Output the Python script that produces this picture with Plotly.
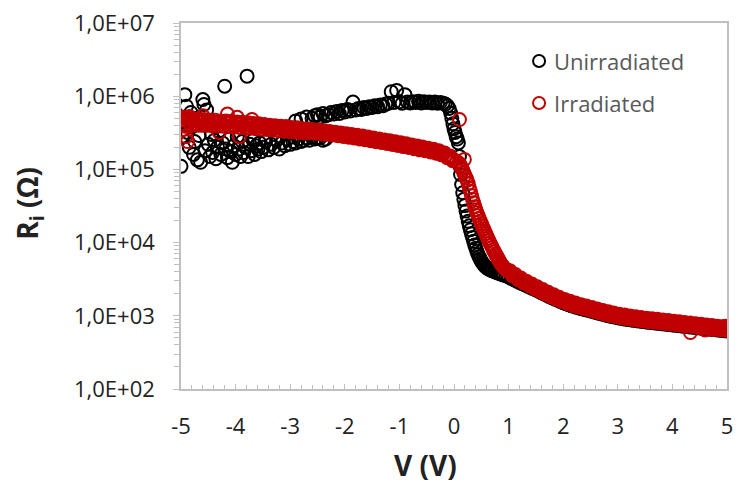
import plotly.graph_objects as go

# ---------------- data (V in volts, R in ohms) ----------------
# Unirradiated: noisy low-voltage region
unirr_noisy = [
    (-5.00, 1.1e5), (-4.98, 2.8e5), (-4.95, 4.5e5), (-4.93, 1.05e6), (-4.90, 7.3e5),
    (-4.88, 3.2e5), (-4.85, 2.0e5), (-4.82, 6.0e5), (-4.80, 3.8e5), (-4.77, 1.6e5),
    (-4.75, 2.4e5), (-4.72, 5.0e5), (-4.70, 1.35e5), (-4.67, 2.9e5), (-4.64, 1.25e5),
    (-4.60, 9.0e5), (-4.58, 7.7e5), (-4.56, 1.8e5), (-4.53, 6.5e5), (-4.50, 2.2e5),
    (-4.47, 1.5e5), (-4.44, 3.0e5), (-4.42, 1.7e5), (-4.39, 2.5e5), (-4.36, 1.4e5),
    (-4.33, 2.0e5), (-4.30, 3.3e5), (-4.27, 1.6e5), (-4.24, 2.3e5), (-4.20, 1.37e6),
    (-4.18, 1.9e5), (-4.15, 1.45e5), (-4.12, 2.6e5), (-4.09, 1.75e5), (-4.06, 1.25e5),
    (-4.03, 2.1e5), (-4.00, 1.6e5), (-3.97, 2.8e5), (-3.94, 1.9e5), (-3.91, 1.5e5),
    (-3.88, 2.4e5), (-3.85, 1.7e5), (-3.82, 2.0e5), (-3.79, 1.88e6), (-3.77, 1.5e5),
    (-3.74, 2.2e5), (-3.71, 1.8e5), (-3.68, 2.5e5), (-3.65, 1.6e5), (-3.62, 2.1e5),
    (-3.59, 1.9e5), (-3.56, 2.3e5), (-3.53, 1.75e5), (-3.50, 2.0e5), (-3.45, 2.4e5),
    (-3.40, 1.85e5), (-3.35, 2.2e5), (-3.30, 2.0e5), (-3.25, 2.5e5), (-3.20, 1.9e5),
    (-3.15, 2.3e5), (-3.10, 2.1e5), (-3.05, 2.6e5), (-3.00, 2.2e5), (-2.95, 2.4e5),
    (-2.90, 2.3e5), (-2.85, 2.6e5), (-2.80, 2.4e5), (-2.75, 2.5e5), (-2.70, 2.7e5),
    (-2.65, 2.5e5), (-2.60, 2.8e5), (-2.55, 2.6e5), (-2.50, 2.7e5), (-2.45, 2.7e5),
    (-2.40, 2.5e5), (-2.35, 2.6e5),
]
# Unirradiated: upper plateau up to 0 V
unirr_plateau = [
    (-2.90, 4.6e5), (-2.80, 4.9e5), (-2.70, 5.2e5), (-2.60, 5.0e5), (-2.55, 5.4e5),
    (-2.50, 5.6e5), (-2.45, 5.2e5), (-2.40, 5.8e5), (-2.35, 5.4e5), (-2.30, 5.6e5),
    (-2.25, 6.0e5), (-2.20, 5.7e5), (-2.15, 6.2e5), (-2.10, 5.8e5), (-2.05, 6.4e5),
    (-2.00, 6.1e5), (-1.95, 6.6e5), (-1.90, 6.3e5), (-1.85, 8.3e5), (-1.80, 6.5e5),
    (-1.75, 6.8e5), (-1.70, 6.6e5), (-1.65, 7.0e5), (-1.60, 6.8e5), (-1.55, 7.2e5),
    (-1.50, 7.0e5), (-1.45, 7.4e5), (-1.40, 7.2e5), (-1.35, 7.6e5), (-1.30, 7.4e5),
    (-1.25, 7.8e5), (-1.20, 8.0e5), (-1.15, 1.15e6), (-1.10, 8.2e5), (-1.05, 1.2e6),
    (-1.00, 8.4e5), (-0.95, 8.0e5), (-0.90, 1.05e6), (-0.85, 8.3e5), (-0.80, 8.1e5),
    (-0.75, 8.4e5), (-0.70, 8.2e5), (-0.65, 8.5e5), (-0.60, 8.1e5), (-0.55, 8.4e5),
    (-0.50, 8.2e5), (-0.45, 8.3e5), (-0.40, 8.1e5), (-0.35, 8.3e5), (-0.30, 8.0e5),
    (-0.25, 8.2e5), (-0.20, 8.0e5), (-0.16, 7.8e5), (-0.12, 7.4e5), (-0.09, 6.8e5),
    (-0.06, 5.9e5), (-0.04, 5.0e5), (-0.02, 4.2e5), (0.00, 3.6e5), (0.02, 3.2e5),
    (0.04, 2.8e5), (0.06, 2.6e5), (0.08, 2.3e5),
]
# Unirradiated: steep drop and high-voltage tail
unirr_drop = [
    (0.10, 1.5e5), (0.11, 1.1e5), (0.12, 8.5e4), (0.14, 6.2e4), (0.16, 4.8e4),
    (0.18, 3.9e4), (0.20, 3.2e4), (0.22, 2.7e4), (0.24, 2.3e4), (0.26, 1.95e4),
    (0.28, 1.7e4), (0.30, 1.5e4), (0.32, 1.32e4), (0.34, 1.17e4), (0.36, 1.04e4),
    (0.38, 9.3e3), (0.40, 8.4e3), (0.42, 7.6e3), (0.44, 6.9e3), (0.46, 6.4e3),
    (0.48, 6.0e3), (0.50, 5.6e3), (0.52, 5.3e3), (0.54, 5.05e3), (0.56, 4.85e3),
    (0.58, 4.68e3), (0.60, 4.55e3), (0.62, 4.45e3), (0.64, 4.36e3), (0.66, 4.28e3),
    (0.68, 4.2e3), (0.70, 4.13e3), (0.75, 3.98e3), (0.80, 3.85e3), (0.85, 3.73e3),
    (0.90, 3.62e3), (0.95, 3.52e3),
]
unirr_tail = [
    (1.00, 3400), (1.05, 3250), (1.10, 3110), (1.15, 2980), (1.20, 2860), (1.25, 2750),
    (1.30, 2640), (1.35, 2540), (1.40, 2440), (1.45, 2340), (1.50, 2250), (1.55, 2160),
    (1.60, 2070), (1.65, 1990), (1.70, 1910), (1.75, 1830), (1.80, 1760), (1.85, 1690),
    (1.90, 1630), (1.95, 1570), (2.00, 1510), (2.05, 1460), (2.10, 1415), (2.15, 1375),
    (2.20, 1340), (2.25, 1305), (2.30, 1275), (2.35, 1245), (2.40, 1215), (2.45, 1190),
    (2.50, 1165), (2.55, 1135), (2.60, 1110), (2.65, 1085), (2.70, 1060), (2.75, 1040),
    (2.80, 1015), (2.85, 995), (2.90, 975), (2.95, 960), (3.00, 940), (3.05, 925),
    (3.10, 912), (3.15, 900), (3.20, 888), (3.25, 877), (3.30, 866), (3.35, 856),
    (3.40, 846), (3.45, 837), (3.50, 828), (3.55, 819), (3.60, 811), (3.65, 803),
    (3.70, 795), (3.75, 788), (3.80, 780), (3.85, 773), (3.90, 766), (3.95, 758),
    (4.00, 751), (4.05, 744), (4.10, 737), (4.15, 729), (4.20, 722), (4.25, 715),
    (4.30, 708), (4.35, 701), (4.40, 695), (4.45, 688), (4.50, 682), (4.55, 675),
    (4.60, 669), (4.65, 662), (4.70, 656), (4.75, 650), (4.80, 644), (4.85, 638),
    (4.90, 632), (4.95, 626), (5.00, 620),
]

# Irradiated: main band at negative bias
irr_band = [
    (-5.00, 4.7e5), (-4.95, 4.2e5), (-4.90, 4.9e5), (-4.85, 4.4e5), (-4.80, 4.6e5),
    (-4.75, 4.3e5), (-4.70, 4.7e5), (-4.65, 4.4e5), (-4.60, 4.5e5), (-4.55, 4.3e5),
    (-4.50, 4.6e5), (-4.45, 4.2e5), (-4.40, 4.4e5), (-4.35, 4.3e5), (-4.30, 4.5e5),
    (-4.25, 4.2e5), (-4.20, 4.4e5), (-4.15, 4.3e5), (-4.10, 4.4e5), (-4.05, 4.1e5),
    (-4.00, 4.3e5), (-3.95, 4.1e5), (-3.90, 4.2e5), (-3.85, 4.0e5), (-3.80, 4.2e5),
    (-3.75, 4.0e5), (-3.70, 4.1e5), (-3.65, 3.9e5), (-3.60, 4.0e5), (-3.55, 3.9e5),
    (-3.50, 3.95e5), (-3.45, 3.8e5), (-3.40, 3.9e5), (-3.35, 3.75e5), (-3.30, 3.8e5),
    (-3.25, 3.7e5), (-3.20, 3.75e5), (-3.15, 3.65e5), (-3.10, 3.7e5), (-3.05, 3.6e5),
    (-3.00, 3.6e5), (-2.95, 3.55e5), (-2.90, 3.5e5), (-2.85, 3.5e5), (-2.80, 3.45e5),
    (-2.75, 3.42e5), (-2.70, 3.4e5), (-2.65, 3.37e5), (-2.60, 3.34e5), (-2.55, 3.31e5),
    (-2.50, 3.28e5), (-2.45, 3.25e5), (-2.40, 3.22e5), (-2.35, 3.19e5), (-2.30, 3.16e5),
    (-2.25, 3.12e5), (-2.20, 3.09e5), (-2.15, 3.05e5), (-2.10, 3.02e5), (-2.05, 2.98e5),
    (-2.00, 2.95e5), (-1.95, 2.91e5), (-1.90, 2.88e5), (-1.85, 2.84e5), (-1.80, 2.8e5),
    (-1.75, 2.77e5), (-1.70, 2.73e5), (-1.65, 2.69e5), (-1.60, 2.66e5), (-1.55, 2.62e5),
    (-1.50, 2.58e5), (-1.45, 2.54e5), (-1.40, 2.51e5), (-1.35, 2.47e5), (-1.30, 2.43e5),
    (-1.25, 2.4e5), (-1.20, 2.36e5), (-1.15, 2.32e5), (-1.10, 2.29e5), (-1.05, 2.25e5),
    (-1.00, 2.22e5), (-0.95, 2.18e5), (-0.90, 2.15e5), (-0.85, 2.11e5), (-0.80, 2.08e5),
    (-0.75, 2.04e5), (-0.70, 2.01e5), (-0.65, 1.97e5), (-0.60, 1.94e5), (-0.55, 1.91e5),
    (-0.50, 1.88e5), (-0.45, 1.84e5), (-0.40, 1.81e5), (-0.35, 1.77e5), (-0.30, 1.74e5),
    (-0.25, 1.69e5), (-0.20, 1.63e5), (-0.15, 1.57e5), (-0.10, 1.50e5), (-0.05, 1.42e5),
    (0.00, 1.35e5), (0.05, 1.28e5),
]
# Irradiated: in-between readings that widen the band
irr_band_b = [
    (-4.975, 5.0e5), (-4.925, 3.9e5), (-4.875, 5.1e5), (-4.825, 4.0e5), (-4.775, 4.9e5),
    (-4.725, 4.0e5), (-4.675, 4.8e5), (-4.625, 4.0e5), (-4.575, 4.8e5), (-4.525, 4.0e5),
    (-4.475, 4.7e5), (-4.425, 3.95e5), (-4.375, 4.7e5), (-4.325, 3.9e5), (-4.275, 4.6e5),
    (-4.225, 3.9e5), (-4.175, 4.6e5), (-4.125, 3.85e5), (-4.075, 4.5e5), (-4.025, 3.8e5),
    (-3.975, 4.45e5), (-3.925, 3.75e5), (-3.875, 4.4e5), (-3.825, 3.7e5), (-3.775, 4.35e5),
    (-3.725, 3.65e5), (-3.675, 4.25e5), (-3.625, 3.6e5), (-3.575, 4.2e5), (-3.525, 3.55e5),
    (-3.475, 4.1e5), (-3.425, 3.5e5), (-3.375, 4.0e5), (-3.325, 3.45e5), (-3.275, 3.95e5),
    (-3.225, 3.4e5), (-3.175, 3.9e5), (-3.125, 3.35e5), (-3.075, 3.85e5), (-3.025, 3.3e5),
    (-2.975, 3.75e5), (-2.925, 3.25e5), (-2.875, 3.7e5), (-2.825, 3.2e5), (-2.775, 3.6e5),
    (-2.725, 3.15e5), (-2.675, 3.55e5), (-2.625, 3.18e5), (-2.575, 3.49e5), (-2.525, 3.13e5),
    (-2.475, 3.42e5), (-2.425, 3.07e5), (-2.375, 3.36e5), (-2.325, 3.01e5), (-2.275, 3.30e5),
    (-2.225, 2.95e5), (-2.175, 3.22e5), (-2.125, 2.88e5), (-2.075, 3.15e5), (-2.025, 2.81e5),
    (-1.975, 3.08e5), (-1.925, 2.75e5), (-1.875, 3.00e5), (-1.825, 2.68e5), (-1.775, 2.92e5),
    (-1.725, 2.61e5), (-1.675, 2.85e5), (-1.625, 2.54e5), (-1.575, 2.77e5), (-1.525, 2.47e5),
    (-1.475, 2.69e5), (-1.425, 2.39e5), (-1.375, 2.61e5), (-1.325, 2.33e5), (-1.275, 2.53e5),
    (-1.225, 2.26e5), (-1.175, 2.46e5), (-1.125, 2.19e5), (-1.075, 2.38e5), (-1.025, 2.12e5),
    (-0.975, 2.31e5), (-0.925, 2.05e5), (-0.875, 2.24e5), (-0.825, 1.99e5), (-0.775, 2.16e5),
    (-0.725, 1.92e5), (-0.675, 2.09e5), (-0.625, 1.85e5), (-0.575, 2.02e5), (-0.525, 1.80e5),
    (-0.475, 1.95e5), (-0.425, 1.73e5), (-0.375, 1.88e5), (-0.325, 1.66e5), (-0.275, 1.80e5),
    (-0.225, 1.58e5), (-0.175, 1.68e5), (-0.125, 1.45e5), (-0.075, 1.53e5), (-0.025, 1.31e5),
]
# Irradiated: scattered outliers
irr_scatter = [
    (-4.98, 5.2e5), (-4.97, 3.5e5), (-4.91, 2.8e5), (-4.88, 2.4e5), (-4.85, 5.3e5),
    (-4.60, 5.4e5), (-4.30, 3.2e5), (-4.15, 5.7e5), (-3.97, 5.15e5), (-3.93, 2.8e5),
    (-3.70, 4.8e5), (0.10, 4.8e5), (0.19, 1.37e5),
    (4.33, 590), (4.60, 640), (4.75, 650), (4.90, 700), (4.97, 720),
]
# Irradiated: steep drop
irr_drop = [
    (0.10, 1.20e5), (0.12, 1.12e5), (0.14, 1.05e5), (0.16, 9.8e4), (0.18, 9.0e4),
    (0.20, 8.3e4), (0.22, 7.7e4), (0.24, 7.1e4), (0.26, 6.4e4), (0.28, 5.6e4),
    (0.30, 5.0e4), (0.32, 4.4e4), (0.34, 3.9e4), (0.36, 3.5e4), (0.38, 3.1e4),
    (0.40, 2.8e4), (0.42, 2.55e4), (0.44, 2.35e4), (0.46, 2.15e4), (0.48, 1.98e4),
    (0.50, 1.82e4), (0.52, 1.68e4), (0.54, 1.55e4), (0.56, 1.44e4), (0.58, 1.33e4),
    (0.60, 1.23e4), (0.62, 1.14e4), (0.64, 1.06e4), (0.66, 9.8e3), (0.68, 9.2e3),
    (0.70, 8.6e3), (0.72, 8.0e3), (0.74, 7.5e3), (0.76, 7.0e3), (0.78, 6.6e3),
    (0.80, 6.2e3), (0.82, 5.8e3), (0.84, 5.45e3), (0.86, 5.15e3), (0.88, 4.9e3),
    (0.90, 4.7e3), (0.92, 4.5e3), (0.94, 4.35e3), (0.96, 4.25e3), (0.98, 4.15e3),
]
irr_tail = [
    (1.00, 4050), (1.05, 3800), (1.10, 3580), (1.15, 3380), (1.20, 3200), (1.25, 3040),
    (1.30, 2900), (1.35, 2770), (1.40, 2650), (1.45, 2530), (1.50, 2420), (1.55, 2320),
    (1.60, 2220), (1.65, 2130), (1.70, 2040), (1.75, 1960), (1.80, 1880), (1.85, 1810),
    (1.90, 1740), (1.95, 1680), (2.00, 1620), (2.05, 1570), (2.10, 1520), (2.15, 1480),
    (2.20, 1440), (2.25, 1400), (2.30, 1370), (2.35, 1340), (2.40, 1310), (2.45, 1280),
    (2.50, 1250), (2.55, 1220), (2.60, 1190), (2.65, 1165), (2.70, 1140), (2.75, 1115),
    (2.80, 1090), (2.85, 1070), (2.90, 1050), (2.95, 1030), (3.00, 1010), (3.05, 995),
    (3.10, 980), (3.15, 968), (3.20, 955), (3.25, 943), (3.30, 932), (3.35, 921),
    (3.40, 910), (3.45, 900), (3.50, 890), (3.55, 881), (3.60, 872), (3.65, 863),
    (3.70, 855), (3.75, 847), (3.80, 839), (3.85, 831), (3.90, 823), (3.95, 815),
    (4.00, 808), (4.05, 800), (4.10, 792), (4.15, 784), (4.20, 776), (4.25, 768),
    (4.30, 761), (4.35, 754), (4.40, 747), (4.45, 740), (4.50, 733), (4.55, 726),
    (4.60, 719), (4.65, 712), (4.70, 705), (4.75, 698), (4.80, 691), (4.85, 684),
    (4.90, 677), (4.95, 670), (5.00, 664),
]
irr_tail_b = [
    (1.025, 4120), (1.075, 3505), (1.125, 3655), (1.175, 3125), (1.225, 3275), (1.275, 2820),
    (1.325, 2975), (1.375, 2575), (1.425, 2720), (1.475, 2350), (1.525, 2490), (1.575, 2155),
    (1.625, 2285), (1.675, 1980), (1.725, 2100), (1.775, 1825), (1.825, 1935), (1.875, 1685),
    (1.925, 1795), (1.975, 1570), (2.025, 1675), (2.075, 1470), (2.125, 1575), (2.175, 1385),
    (2.225, 1490), (2.275, 1315), (2.325, 1420), (2.375, 1260), (2.425, 1360), (2.475, 1200),
    (2.525, 1295), (2.575, 1145), (2.625, 1235), (2.675, 1095), (2.725, 1185), (2.775, 1047),
    (2.825, 1134), (2.875, 1007), (2.925, 1092), (2.975, 969), (3.025, 1052), (3.075, 938),
    (3.125, 1023), (3.175, 913), (3.225, 996), (3.275, 890), (3.325, 972), (3.375, 869),
    (3.425, 950), (3.475, 850), (3.525, 929), (3.575, 832), (3.625, 910), (3.675, 816),
    (3.725, 894), (3.775, 801), (3.825, 877), (3.875, 786), (3.925, 860), (3.975, 770),
    (4.025, 844), (4.075, 756), (4.125, 827), (4.175, 741), (4.225, 811), (4.275, 726),
    (4.325, 795), (4.375, 713), (4.425, 780), (4.475, 699), (4.525, 765), (4.575, 686),
    (4.625, 751), (4.675, 673), (4.725, 736), (4.775, 659), (4.825, 721), (4.875, 646),
    (4.925, 707), (4.975, 634),
]

x_tickvals = [-5, -4, -3, -2, -1, 0, 1, 2, 3, 4, 5]
x_ticktext = ["-5", "-4", "-3", "-2", "-1", "0", "1", "2", "3", "4", "5"]
y_tickvals = [1e2, 1e3, 1e4, 1e5, 1e6, 1e7]
y_ticktext = ["1,0E+02", "1,0E+03", "1,0E+04", "1,0E+05", "1,0E+06", "1,0E+07"]
series_names = ["Unirradiated", "Irradiated"]
series_colors = ["#000000", "#C00000"]

unirr = unirr_noisy + unirr_plateau + unirr_drop + unirr_tail
irr = irr_band + irr_band_b + irr_scatter + irr_drop + irr_tail + irr_tail_b

FONT = "Open Sans"
AXIS_GRAY = "#bfbfbf"
TXT = "#222222"

fig = go.Figure()
for pts, name, col in [(unirr, series_names[0], series_colors[0]),
                       (irr, series_names[1], series_colors[1])]:
    fig.add_trace(go.Scatter(
        x=[p[0] for p in pts], y=[p[1] for p in pts], mode="markers", name=name,
        marker=dict(symbol="circle-open", size=13, color=col, line=dict(width=2, color=col)),
        showlegend=False,
    ))

fig.update_layout(
    width=740, height=485,
    margin=dict(l=181, r=7, t=23, b=96),
    paper_bgcolor="white", plot_bgcolor="white",
    font=dict(family=FONT, size=22, color=TXT),
)
fig.update_xaxes(
    range=[-5, 5], tickvals=x_tickvals, ticktext=x_ticktext,
    showline=True, linecolor=AXIS_GRAY, linewidth=1.5, mirror=True,
    ticks="inside", ticklen=5, tickcolor=AXIS_GRAY, tickwidth=1,
    minor=dict(ticks="inside", ticklen=4, dtick=0.2, tickcolor=AXIS_GRAY, showgrid=False),
    showgrid=False, zeroline=False, ticklabelstandoff=17,
    tickfont=dict(family=FONT, size=22, color=TXT),
)
fig.update_yaxes(
    type="log", range=[2, 7], tickvals=y_tickvals, ticktext=y_ticktext,
    showline=True, linecolor=AXIS_GRAY, linewidth=1.5, mirror=True,
    ticks="outside", ticklen=6, tickcolor=AXIS_GRAY, tickwidth=1,
    minor=dict(ticks="outside", ticklen=5, dtick="D1", tickcolor=AXIS_GRAY, showgrid=False),
    showgrid=False, zeroline=False, ticklabelstandoff=14,
    tickfont=dict(family=FONT, size=22, color=TXT),
)

# axis titles
fig.add_annotation(text="<b>V (V)</b>", xref="paper", yref="paper",
                   x=(428 - 181) / 552, y=(389 - 465) / 366, showarrow=False,
                   xanchor="center", yanchor="middle",
                   font=dict(family=FONT, size=28, color=TXT))
fig.add_annotation(text="<b>R<sub>i</sub> (Ω)</b>", xref="paper", yref="paper",
                   x=(27 - 181) / 552, y=(389 - 203) / 366, showarrow=False,
                   textangle=-90, xanchor="center", yanchor="middle",
                   font=dict(family=FONT, size=28, color=TXT))

# legend (drawn manually)
for i, (name, col) in enumerate(zip(series_names, series_colors)):
    ypx = 61 + 42 * i
    yp = (389 - ypx) / 366
    xp = (543 - 181) / 552
    fig.add_shape(type="circle", xref="paper", yref="paper",
                  xsizemode="pixel", ysizemode="pixel", xanchor=xp, yanchor=yp,
                  x0=-6, x1=6, y0=-6, y1=6, line=dict(color=col, width=2))
    fig.add_annotation(text=name, xref="paper", yref="paper",
                       x=(556 - 181) / 552, y=yp, showarrow=False,
                       xanchor="left", yanchor="middle",
                       font=dict(family=FONT, size=22, color="#595959"))

fig.write_html("out.html")
